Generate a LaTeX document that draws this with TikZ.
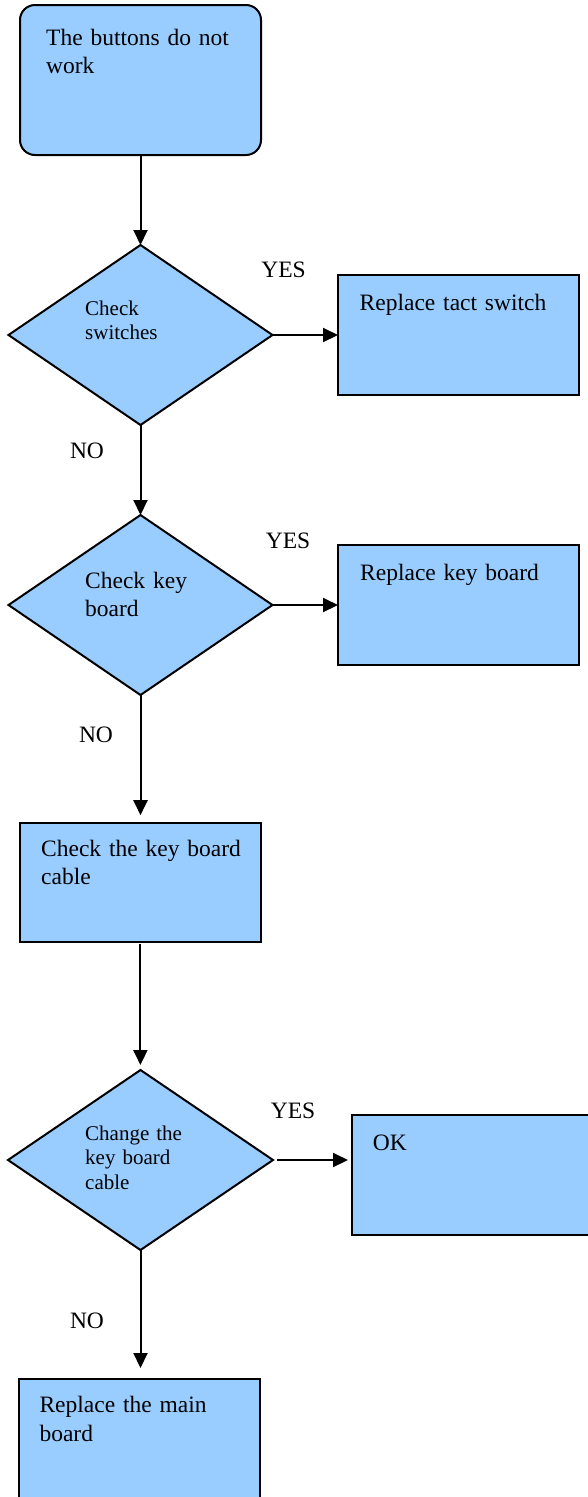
\documentclass[tikz,border=0pt]{standalone}
\usepackage{fontspec}
\setmainfont{Liberation Serif}
\usetikzlibrary{shapes.geometric,arrows.meta}
\definecolor{boxblue}{HTML}{99CCFF}
\begin{document}
\begin{tikzpicture}[x=1pt,y=-1pt,
  boxshape/.style={draw=black,line width=2pt,fill=boxblue,inner sep=0pt,outer sep=0pt},
  rbox/.style={boxshape,rectangle,minimum width=241pt,minimum height=120pt},
  dia/.style={boxshape,diamond,minimum width=264pt,minimum height=180pt},
  txt/.style={anchor=base west,inner sep=0pt,align=left,text width=230pt,font=\fontsize{23.5}{28.5}\selectfont},
  smalltxt/.style={txt,font=\fontsize{21}{24.5}\selectfont},
  lbl/.style={anchor=base,inner sep=0pt,font=\fontsize{23.5}{28}\selectfont},
  arr/.style={line width=2pt,-{Triangle[length=15pt,width=14pt]}}
]
\useasboundingbox (0,0) rectangle (588,1497);
\clip (0,0) rectangle (588,1497);

% start
\node[boxshape,rounded corners=15pt,minimum width=241pt,minimum height=150pt] (start) at (140.5,80) {};
\node[txt] (startt) at (46,45) {The buttons do not\\work};

% decision 1
\node[dia] (d1) at (140.5,335) {};
\node[smalltxt,font=\fontsize{21}{24}\selectfont] (d1t) at (85,315) {Check\\switches};
\node[rbox] (r1) at (458.5,335) {};
\node[txt] (r1t) at (359.5,310) {Replace tact switch};
\node[lbl] (y1) at (283.5,277) {YES};
\node[lbl] (n1) at (87,458) {NO};

% decision 2
\node[dia] (d2) at (140.5,605) {};
\node[txt,font=\fontsize{23.5}{28}\selectfont] (d2t) at (85,588.5) {Check key\\board};
\node[rbox] (r2) at (458.5,605) {};
\node[txt] (r2t) at (360,580) {Replace key board};
\node[lbl] (y2) at (288,548) {YES};
\node[lbl] (n2) at (96,742) {NO};

% check cable
\node[rbox,minimum width=240.5pt,minimum height=119pt] (c1) at (140.4,882.2) {};
\node[txt] (c1t) at (41,856) {Check the key board\\cable};

% decision 3
\node[dia,minimum width=265pt] (d3) at (140.5,1160) {};
\node[smalltxt] (d3t) at (85,1140) {Change the\\key board\\cable};
\node[rbox] (ok) at (472.5,1175) {};
\node[txt] (okt) at (372.7,1150) {OK};
\node[lbl] (y3) at (293,1118) {YES};
\node[lbl] (n3) at (87,1328) {NO};

% main board
\node[rbox] (m) at (139,1439) {};
\node[txt] (mt) at (39.3,1412.7) {Replace the main\\board};

% connectors
\draw[arr] (start.south) -- (d1.north);
\draw[arr] (d1.east) -- (r1.west);
\draw[arr] (d1.south) -- (d2.north);
\draw[arr] (d2.east) -- (r2.west);
\draw[arr,shorten >=7.5pt] (d2.south) -- (d2.south |- c1.north);
\draw[arr,shorten <=2pt,shorten >=5pt] (c1.south) -- (c1.south |- d3.north);
\draw[arr,shorten <=4pt,shorten >=4pt] (d3.east) -- (d3.east -| ok.west);
\draw[arr,shorten >=11pt] (d3.south) -- (d3.south |- m.north);
\end{tikzpicture}
\end{document}
